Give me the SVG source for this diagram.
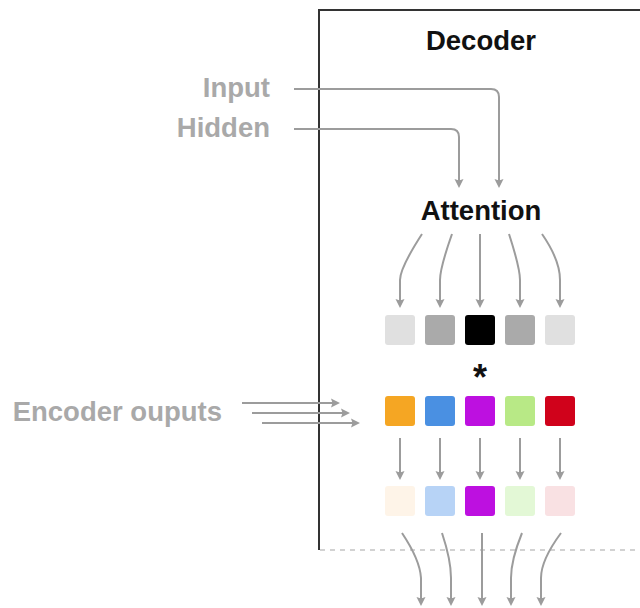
<svg xmlns="http://www.w3.org/2000/svg" width="640" height="608" viewBox="0 0 640 608">
<style>
.t{font-family:"Liberation Sans",Arial,sans-serif;font-weight:bold;font-size:27.5px}
.dark{fill:#111}
.gray{fill:#a9a9a9}
.a{fill:none;stroke:#9c9c9c;stroke-width:2;marker-end:url(#ah)}
.sq{stroke:none}
</style>
<defs>
<marker id="ah" markerWidth="10" markerHeight="10" refX="7" refY="5" orient="auto" markerUnits="userSpaceOnUse" viewBox="0 0 10 10">
<path d="M0,0.5 L9,5 L0,9.5 L1.5,5 Z" fill="#9c9c9c"/>
</marker>
</defs>
<rect width="640" height="608" fill="#ffffff"/>
<g id="decoder">
<path d="M319,550 L319,10 L642,10" fill="none" stroke="#333" stroke-width="2"/>
<line x1="320" y1="550" x2="640" y2="550" stroke="#c4c4c4" stroke-width="1.5" stroke-dasharray="5,5"/>
<text class="t dark" x="481" y="50" text-anchor="middle">Decoder</text>
</g>
<g id="input"><text class="t gray" x="270" y="97" text-anchor="end">Input</text></g>
<g id="hidden"><text class="t gray" x="270" y="137" text-anchor="end">Hidden</text></g>
<g id="attention"><text class="t dark" x="481" y="220" text-anchor="middle">Attention</text></g>
<g id="encoder-outputs"><text class="t gray" x="222" y="421" text-anchor="end">Encoder ouputs</text></g>
<g id="weights">
<rect class="sq" x="385" y="315" width="30" height="30" rx="3" fill="#e0e0e0"/>
<rect class="sq" x="425" y="315" width="30" height="30" rx="3" fill="#aaaaaa"/>
<rect class="sq" x="465" y="315" width="30" height="30" rx="3" fill="#000000"/>
<rect class="sq" x="505" y="315" width="30" height="30" rx="3" fill="#aaaaaa"/>
<rect class="sq" x="545" y="315" width="30" height="30" rx="3" fill="#e0e0e0"/>
</g>
<g id="multiply"><text class="t dark" x="480" y="390" text-anchor="middle" style="font-size:36px">*</text></g>
<g id="encoder-vectors">
<rect class="sq" x="385" y="396" width="30" height="30" rx="3" fill="#f5a623"/>
<rect class="sq" x="425" y="396" width="30" height="30" rx="3" fill="#4a90e2"/>
<rect class="sq" x="465" y="396" width="30" height="30" rx="3" fill="#bd10e0"/>
<rect class="sq" x="505" y="396" width="30" height="30" rx="3" fill="#b8e986"/>
<rect class="sq" x="545" y="396" width="30" height="30" rx="3" fill="#d0021b"/>
</g>
<g id="weighted-vectors">
<rect class="sq" x="385" y="486" width="30" height="30" rx="3" fill="#fef4e8"/>
<rect class="sq" x="425" y="486" width="30" height="30" rx="3" fill="#b7d3f6"/>
<rect class="sq" x="465" y="486" width="30" height="30" rx="3" fill="#bd10e0"/>
<rect class="sq" x="505" y="486" width="30" height="30" rx="3" fill="#e3f8d6"/>
<rect class="sq" x="545" y="486" width="30" height="30" rx="3" fill="#f9e1e3"/>
</g>
<g id="connectors">
<path class="a" d="M294,89 L491,89 Q499,89 499,97 L499,186"/>
<path class="a" d="M294,129 L451,129 Q459,129 459,137 L459,186"/>
<path class="a" d="M422,234 Q400,268 400,280 L400,306"/>
<path class="a" d="M452,234 Q440,268 440,280 L440,306"/>
<path class="a" d="M480,234 L480,306"/>
<path class="a" d="M509,234 Q520,268 520,280 L520,306"/>
<path class="a" d="M542,234 Q560,260 560,280 L560,306"/>
<path class="a" d="M242,403 L338,403"/>
<path class="a" d="M252,413 L348,413"/>
<path class="a" d="M262,423 L358,423"/>
<path class="a" d="M400,438 L400,478"/>
<path class="a" d="M440,438 L440,478"/>
<path class="a" d="M480,438 L480,478"/>
<path class="a" d="M520,438 L520,478"/>
<path class="a" d="M560,438 L560,478"/>
<path class="a" d="M402,533 Q420,560 421,578 L421,604"/>
<path class="a" d="M442,533 Q451,560 451,578 L451,604"/>
<path class="a" d="M482,533 L482,604"/>
<path class="a" d="M522,533 Q511,560 511,578 L511,604"/>
<path class="a" d="M561,533 Q541,560 541,578 L541,604"/>
</g>
</svg>
